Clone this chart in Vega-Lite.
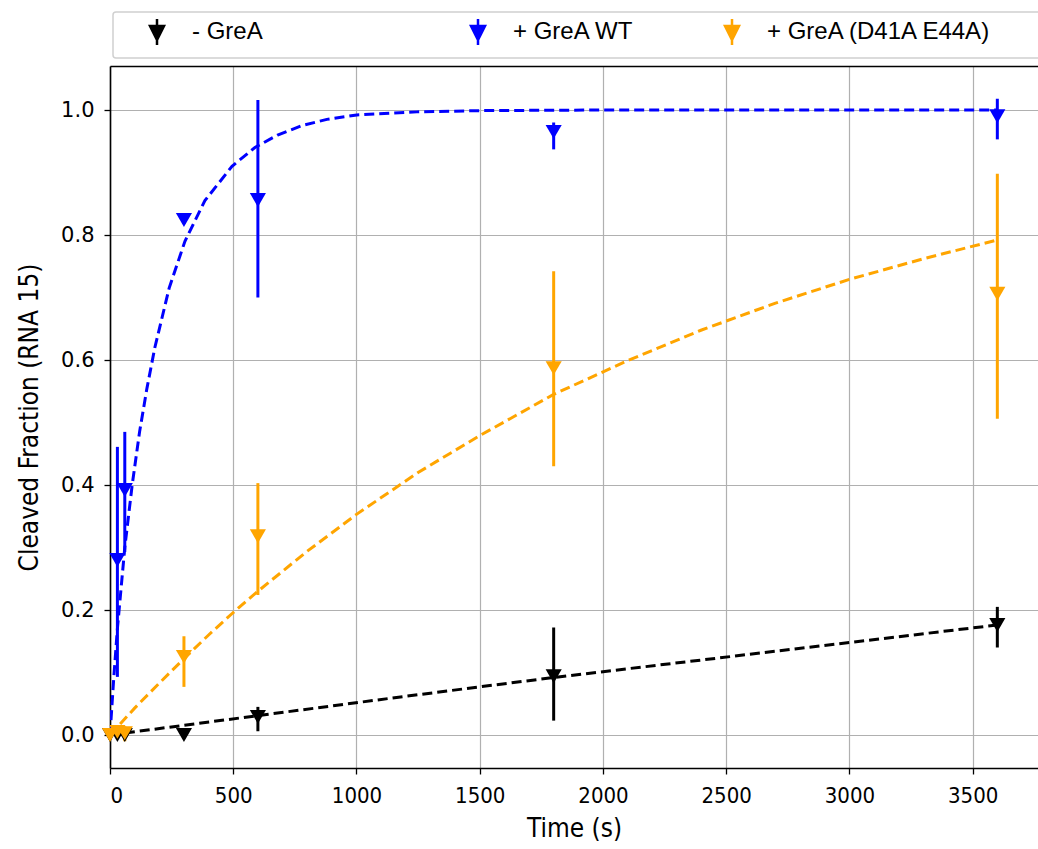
{
  "$schema": "https://vega.github.io/schema/vega-lite/v6.json",
  "width": 928,
  "height": 702,
  "autosize": {"type": "none"},
  "padding": {"left": 110, "top": 66, "right": 0, "bottom": 81},
  "background": "white",
  "config": {
    "view": {"stroke": null},
    "axis": {
      "gridColor": "#b0b0b0",
      "gridWidth": 1.2,
      "gridOpacity": 1,
      "domainColor": "#000000",
      "domainWidth": 1.6,
      "tickColor": "#000000",
      "tickWidth": 1.3,
      "tickSize": 6,
      "labelColor": "#000000",
      "titleColor": "#000000",
      "titleFontWeight": "normal"
    },
    "legend": {
      "orient": "none",
      "legendX": 3,
      "legendY": -54,
      "direction": "horizontal",
      "title": null,
      "padding": 8,
      "strokeColor": "#d0d0d0",
      "strokeWidth": 1.5,
      "cornerRadius": 3,
      "fillColor": "white",
      "columnPadding": 10,
      "labelFont": "Liberation Sans",
      "labelFontSize": 24,
      "labelColor": "#000000",
      "labelOffset": 47,
      "labelLimit": 800,
      "symbolType": "M1.7,-0.6L3.1,-0.6L2.4,0.8Z M2.4,-1.3L2.4,1.3",
      "symbolSize": 400,
      "symbolStrokeWidth": 2.5,
      "symbolOpacity": 1
    }
  },
  "datasets": {
    "pts": [
      {"series": "- GreA", "t": 0, "y": 0.0, "lo": 0.0, "hi": 0.0},
      {"series": "- GreA", "t": 30, "y": 0.0, "lo": -0.004, "hi": 0.004},
      {"series": "- GreA", "t": 60, "y": 0.0, "lo": -0.004, "hi": 0.004},
      {"series": "- GreA", "t": 300, "y": 0.0, "lo": -0.005, "hi": 0.005},
      {"series": "- GreA", "t": 600, "y": 0.029, "lo": 0.006, "hi": 0.045},
      {"series": "- GreA", "t": 1800, "y": 0.094, "lo": 0.023, "hi": 0.172},
      {"series": "- GreA", "t": 3600, "y": 0.176, "lo": 0.14, "hi": 0.205},
      {"series": "+ GreA WT", "t": 30, "y": 0.28, "lo": 0.093, "hi": 0.461},
      {"series": "+ GreA WT", "t": 60, "y": 0.392, "lo": 0.293, "hi": 0.485},
      {"series": "+ GreA WT", "t": 300, "y": 0.824, "lo": 0.818, "hi": 0.83},
      {"series": "+ GreA WT", "t": 600, "y": 0.856, "lo": 0.7, "hi": 1.016},
      {"series": "+ GreA WT", "t": 1800, "y": 0.965, "lo": 0.937, "hi": 0.98},
      {"series": "+ GreA WT", "t": 3600, "y": 0.99, "lo": 0.953, "hi": 1.018},
      {"series": "+ GreA (D41A E44A)", "t": 0, "y": 0.0, "lo": -0.008, "hi": 0.008},
      {"series": "+ GreA (D41A E44A)", "t": 30, "y": 0.005, "lo": -0.006, "hi": 0.016},
      {"series": "+ GreA (D41A E44A)", "t": 60, "y": 0.003, "lo": -0.01, "hi": 0.014},
      {"series": "+ GreA (D41A E44A)", "t": 300, "y": 0.125, "lo": 0.077, "hi": 0.158},
      {"series": "+ GreA (D41A E44A)", "t": 600, "y": 0.318, "lo": 0.224, "hi": 0.403},
      {"series": "+ GreA (D41A E44A)", "t": 1800, "y": 0.587, "lo": 0.43, "hi": 0.742},
      {"series": "+ GreA (D41A E44A)", "t": 3600, "y": 0.706, "lo": 0.506, "hi": 0.898}
    ],
    "fit": [
      {"series": "- GreA", "t": 0, "y": 0.0},
      {"series": "- GreA", "t": 600, "y": 0.031},
      {"series": "- GreA", "t": 1200, "y": 0.062},
      {"series": "- GreA", "t": 1800, "y": 0.092},
      {"series": "- GreA", "t": 2400, "y": 0.12},
      {"series": "- GreA", "t": 3000, "y": 0.148},
      {"series": "- GreA", "t": 3600, "y": 0.176},
      {"series": "+ GreA WT", "t": 0, "y": 0.0},
      {"series": "+ GreA WT", "t": 15, "y": 0.09},
      {"series": "+ GreA WT", "t": 30, "y": 0.17},
      {"series": "+ GreA WT", "t": 60, "y": 0.3},
      {"series": "+ GreA WT", "t": 90, "y": 0.4},
      {"series": "+ GreA WT", "t": 120, "y": 0.485},
      {"series": "+ GreA WT", "t": 150, "y": 0.555},
      {"series": "+ GreA WT", "t": 182, "y": 0.62},
      {"series": "+ GreA WT", "t": 240, "y": 0.715},
      {"series": "+ GreA WT", "t": 304, "y": 0.79},
      {"series": "+ GreA WT", "t": 385, "y": 0.855},
      {"series": "+ GreA WT", "t": 495, "y": 0.91},
      {"series": "+ GreA WT", "t": 588, "y": 0.94},
      {"series": "+ GreA WT", "t": 680, "y": 0.96},
      {"series": "+ GreA WT", "t": 779, "y": 0.975},
      {"series": "+ GreA WT", "t": 880, "y": 0.985},
      {"series": "+ GreA WT", "t": 1001, "y": 0.992},
      {"series": "+ GreA WT", "t": 1245, "y": 0.997},
      {"series": "+ GreA WT", "t": 1500, "y": 0.999},
      {"series": "+ GreA WT", "t": 2000, "y": 1.0},
      {"series": "+ GreA WT", "t": 2800, "y": 1.0},
      {"series": "+ GreA WT", "t": 3600, "y": 1.0},
      {"series": "+ GreA (D41A E44A)", "t": 0, "y": 0.0},
      {"series": "+ GreA (D41A E44A)", "t": 100, "y": 0.043},
      {"series": "+ GreA (D41A E44A)", "t": 200, "y": 0.083},
      {"series": "+ GreA (D41A E44A)", "t": 300, "y": 0.122},
      {"series": "+ GreA (D41A E44A)", "t": 400, "y": 0.16},
      {"series": "+ GreA (D41A E44A)", "t": 500, "y": 0.196},
      {"series": "+ GreA (D41A E44A)", "t": 600, "y": 0.23},
      {"series": "+ GreA (D41A E44A)", "t": 800, "y": 0.294},
      {"series": "+ GreA (D41A E44A)", "t": 1000, "y": 0.353},
      {"series": "+ GreA (D41A E44A)", "t": 1250, "y": 0.42},
      {"series": "+ GreA (D41A E44A)", "t": 1500, "y": 0.479},
      {"series": "+ GreA (D41A E44A)", "t": 1800, "y": 0.545},
      {"series": "+ GreA (D41A E44A)", "t": 2100, "y": 0.599},
      {"series": "+ GreA (D41A E44A)", "t": 2400, "y": 0.648},
      {"series": "+ GreA (D41A E44A)", "t": 2700, "y": 0.691},
      {"series": "+ GreA (D41A E44A)", "t": 3000, "y": 0.729},
      {"series": "+ GreA (D41A E44A)", "t": 3300, "y": 0.762},
      {"series": "+ GreA (D41A E44A)", "t": 3600, "y": 0.792}
    ]
  },
  "resolve": {"axis": {"x": "independent"}},
  "layer": [
    {
      "data": {"name": "fit"},
      "mark": {"type": "line", "strokeWidth": 3, "strokeDash": [10, 5], "clip": true},
      "encoding": {
        "x": {"field": "t", "type": "quantitative", "scale": {"domain": [0, 3765], "nice": false, "zero": false},
              "axis": {"orient": "top", "labels": false, "ticks": false, "grid": false, "title": null, "domain": true}},
        "y": {"field": "y", "type": "quantitative", "scale": {"domain": [-0.0528, 1.0704], "nice": false, "zero": false},
              "axis": {"title": "Cleaved Fraction (RNA 15)", "values": [0, 0.2, 0.4, 0.6, 0.8, 1.0], "format": ".1f", "grid": true,
                       "labelFont": "DejaVu Sans", "labelFontSize": 21, "labelPadding": 10,
                       "titleFont": "DejaVu Sans Condensed", "titleFontSize": 26, "titlePadding": 18}},
        "color": {"field": "series", "type": "nominal",
                  "scale": {"domain": ["- GreA", "+ GreA WT", "+ GreA (D41A E44A)"], "range": ["#000000", "#0000ff", "#ffa500"]},
                  "legend": {
                    "encode": {
                      "symbols": {"update": {
                        "fill": {"scale": "color", "field": "value"},
                        "stroke": {"scale": "color", "field": "value"},
                        "shape": {"signal": "datum.value == '- GreA' ? 'M1.7,-0.6L3.1,-0.6L2.4,0.8Z M2.4,-1.3L2.4,1.3 M29.4,0' : datum.value == '+ GreA WT' ? 'M1.7,-0.6L3.1,-0.6L2.4,0.8Z M2.4,-1.3L2.4,1.3 M22.7,0' : 'M1.7,-0.6L3.1,-0.6L2.4,0.8Z M2.4,-1.3L2.4,1.3 M34,0'"}
                      }}
                    }
                  }}
      }
    },
    {
      "data": {"name": "pts"},
      "mark": {"type": "rule", "strokeWidth": 3},
      "encoding": {
        "x": {"field": "t", "type": "quantitative", "scale": {"domain": [0, 3765], "nice": false, "zero": false},
              "axis": {"orient": "bottom", "title": "Time (s)", "values": [0, 500, 1000, 1500, 2000, 2500, 3000, 3500], "format": "d", "grid": true,
                       "labelFont": "DejaVu Sans Condensed", "labelFontSize": 22, "labelPadding": 11,
                       "titleFont": "DejaVu Sans Condensed", "titleFontSize": 26, "titlePadding": 9}},
        "y": {"field": "lo", "type": "quantitative",
              "axis": {"title": "Cleaved Fraction (RNA 15)", "values": [0, 0.2, 0.4, 0.6, 0.8, 1.0], "format": ".1f", "grid": true,
                       "labelFont": "DejaVu Sans", "labelFontSize": 21, "labelPadding": 10,
                       "titleFont": "DejaVu Sans Condensed", "titleFontSize": 26, "titlePadding": 18}},
        "y2": {"field": "hi"},
        "color": {"field": "series", "type": "nominal"}
      }
    },
    {
      "data": {"name": "pts"},
      "mark": {"type": "point", "shape": "triangle-down", "filled": true, "size": 260, "opacity": 1, "strokeWidth": 0},
      "encoding": {
        "x": {"field": "t", "type": "quantitative", "axis": null},
        "y": {"field": "y", "type": "quantitative",
              "axis": {"title": "Cleaved Fraction (RNA 15)", "values": [0, 0.2, 0.4, 0.6, 0.8, 1.0], "format": ".1f", "grid": true,
                       "labelFont": "DejaVu Sans", "labelFontSize": 21, "labelPadding": 10,
                       "titleFont": "DejaVu Sans Condensed", "titleFontSize": 26, "titlePadding": 18}},
        "color": {"field": "series", "type": "nominal"}
      }
    }
  ]
}
